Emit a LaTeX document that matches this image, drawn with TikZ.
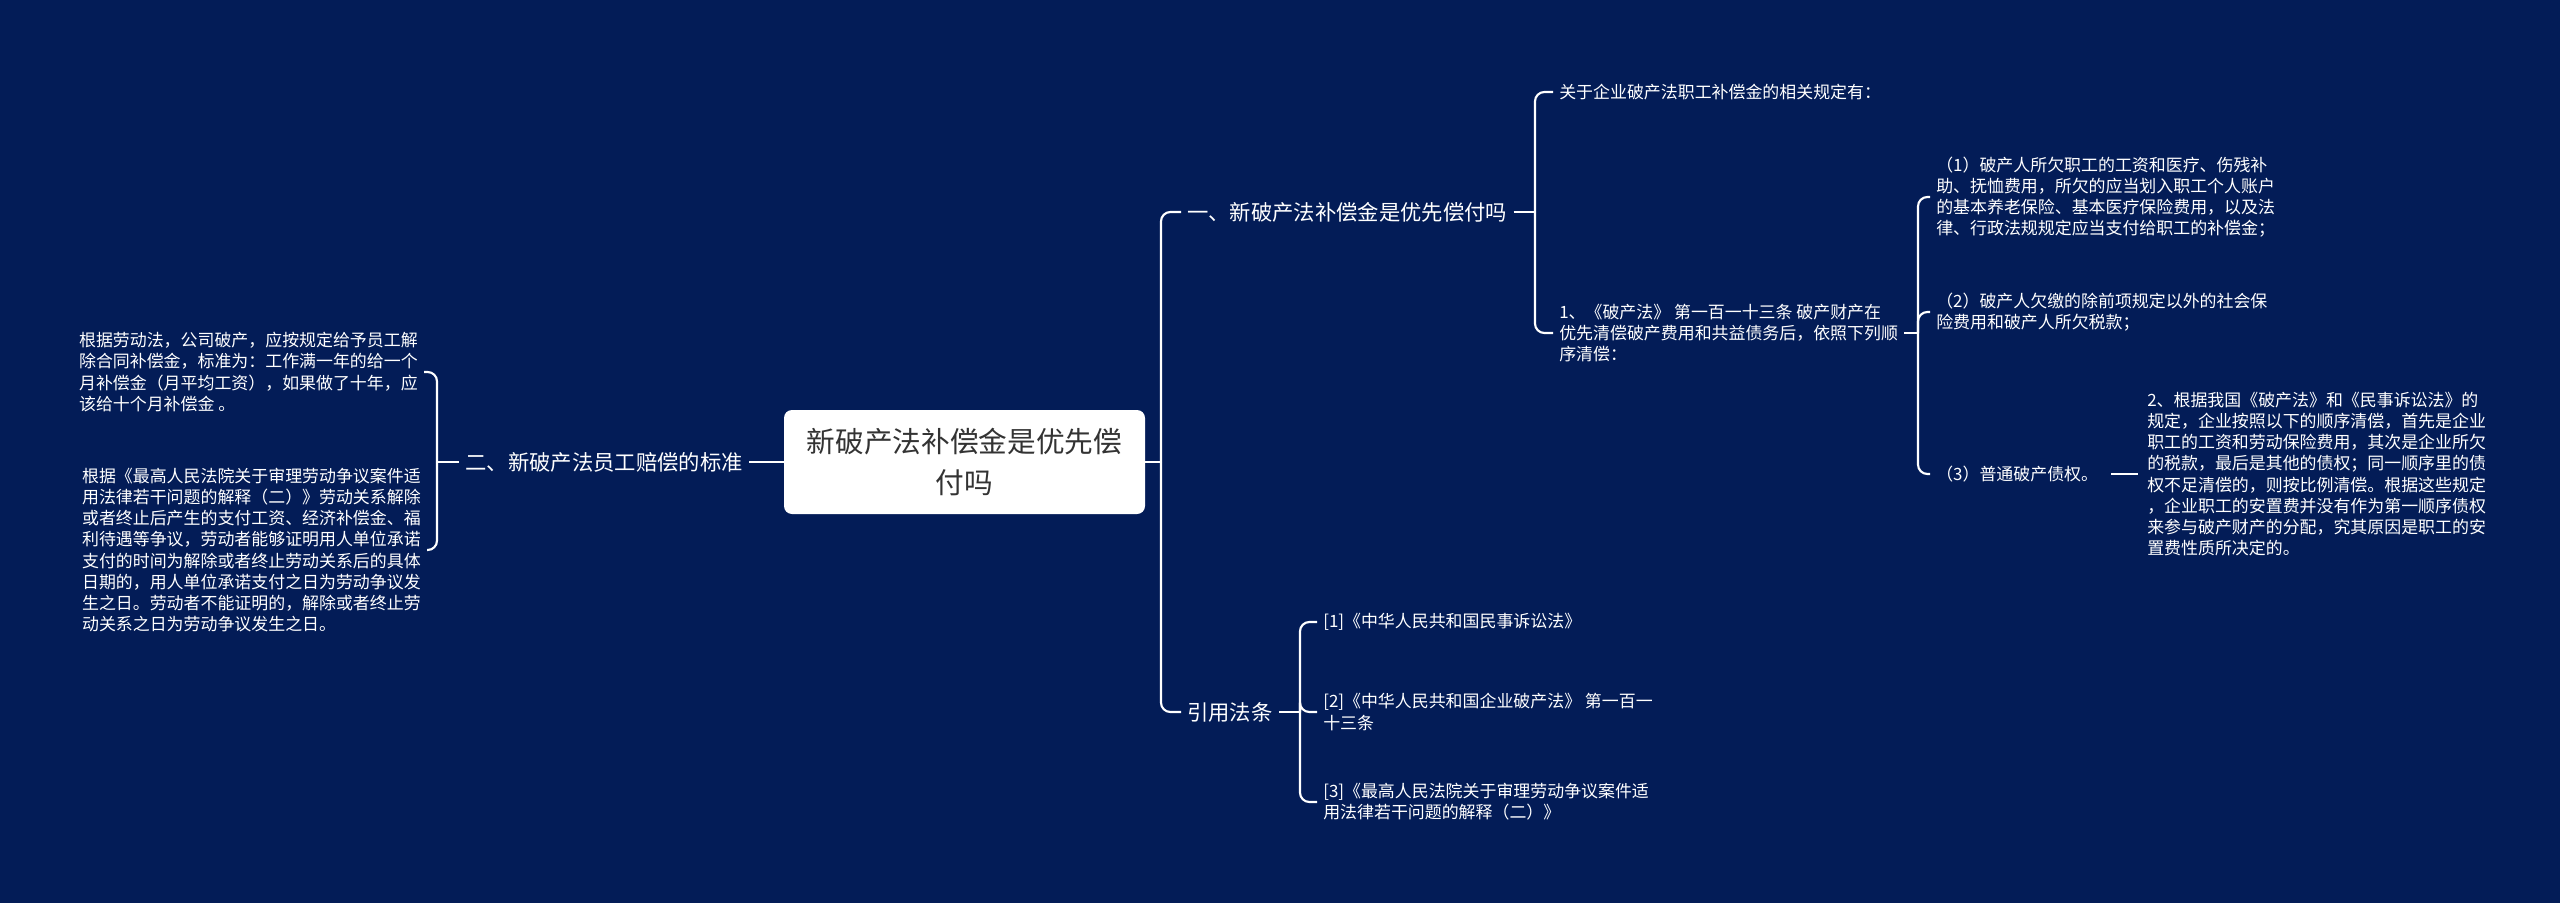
\documentclass[tikz,border=0pt]{standalone}
\usepackage{fontspec}
\newfontfamily\cjk{Noto Sans CJK SC}
\definecolor{navy}{RGB}{3,28,87}
\definecolor{ink}{RGB}{51,51,51}
\begin{document}
\begin{tikzpicture}[x=0.75pt,y=-0.75pt,
  every node/.style={font=\cjk,text=white,inner sep=4.5pt},
  conn/.style={draw=white,line width=1.6pt,rounded corners=7pt},
  rootbox/.style={fill=white,rounded corners=6pt,minimum width=270.75pt,
    minimum height=78pt,text=ink,align=center,
    font=\cjk\fontsize{21.5}{30.6}\selectfont},
  branch/.style={font=\cjk\fontsize{16}{20}\selectfont},
  leaf/.style={align=left,font=\cjk\fontsize{12.7}{15.9}\selectfont}]
\fill[navy] (0,0) rectangle (2560,903);
\useasboundingbox (0,0) rectangle (2560,903);
% centre
\node[rootbox] (root) at (964.5,462) {新破产法补偿金是优先偿\\付吗};
% right side
\node[branch,anchor=west] (one) at (1181,212) {一、新破产法补偿金是优先偿付吗};
\node[branch,anchor=west] (cite) at (1181,712) {引用法条};
\node[leaf,anchor=west] (rule) at (1553,92) {关于企业破产法职工补偿金的相关规定有：};
\node[leaf,anchor=west] (art) at (1553,333) {1、《破产法》 第一百一十三条 破产财产在\\
  优先清偿破产费用和共益债务后，依照下列顺\\序清偿：};
\node[leaf,anchor=west] (p1) at (1930,197) {（1）破产人所欠职工的工资和医疗、伤残补\\
  助、抚恤费用，所欠的应当划入职工个人账户\\的基本养老保险、基本医疗保险费用，以及法\\
  律、行政法规规定应当支付给职工的补偿金；};
\node[leaf,anchor=west] (p2) at (1930,312) {（2）破产人欠缴的除前项规定以外的社会保\\
  险费用和破产人所欠税款；};
\node[leaf,anchor=west] (p3) at (1930,474) {（3）普通破产债权。};
\node[leaf,anchor=west] (note) at (2141,474) {2、根据我国《破产法》和《民事诉讼法》的\\
  规定，企业按照以下的顺序清偿，首先是企业\\职工的工资和劳动保险费用，其次是企业所欠\\
  的税款，最后是其他的债权；同一顺序里的债\\权不足清偿的，则按比例清偿。根据这些规定\\
  ，企业职工的安置费并没有作为第一顺序债权\\来参与破产财产的分配，究其原因是职工的安\\
  置费性质所决定的。};
\node[leaf,anchor=west] (ref1) at (1317,622) {[1]《中华人民共和国民事诉讼法》};
\node[leaf,anchor=west] (ref2) at (1317,712) {[2]《中华人民共和国企业破产法》 第一百一\\十三条};
\node[leaf,anchor=west] (ref3) at (1317,802) {[3]《最高人民法院关于审理劳动争议案件适\\
  用法律若干问题的解释（二）》};
% left side
\node[branch,anchor=east] (two) at (749,462) {二、新破产法员工赔偿的标准};
\node[leaf,anchor=east] (lab1) at (424,372) {根据劳动法，公司破产，应按规定给予员工解\\
  除合同补偿金，标准为：工作满一年的给一个\\月补偿金（月平均工资），如果做了十年，应\\
  该给十个月补偿金 。};
\node[leaf,anchor=east] (lab2) at (427,550) {根据《最高人民法院关于审理劳动争议案件适\\
  用法律若干问题的解释（二）》劳动关系解除\\或者终止后产生的支付工资、经济补偿金、福\\
  利待遇等争议，劳动者能够证明用人单位承诺\\支付的时间为解除或者终止劳动关系后的具体\\
  日期的，用人单位承诺支付之日为劳动争议发\\生之日。劳动者不能证明的，解除或者终止劳\\
  动关系之日为劳动争议发生之日。};
% spines
\coordinate (s0) at (1161,462);
\coordinate (s1) at (1535,212);
\coordinate (s2) at (1918,333);
\coordinate (s3) at (1300,712);
\coordinate (s4) at (437,462);
\draw[conn] (root.east) -- (s0);
\foreach \n in {one,cite} \draw[conn] (s0) |- (\n.west);
\draw[conn] (one.east) -- (s1);
\foreach \n in {rule,art} \draw[conn] (s1) |- (\n.west);
\draw[conn] (art.east) -- (s2);
\foreach \n in {p1,p2,p3} \draw[conn] (s2) |- (\n.west);
\draw[conn,shorten <=5pt,shorten >=2pt] (p3.east) -- (note.west);
\draw[conn] (cite.east) -- (s3);
\foreach \n in {ref1,ref2,ref3} \draw[conn] (s3) |- (\n.west);
\draw[conn] (root.west) -- (two.east);
\draw[conn] (two.west) -- (s4);
\foreach \n in {lab1,lab2} \draw[conn] (s4) |- (\n.east);
\end{tikzpicture}
\end{document}
